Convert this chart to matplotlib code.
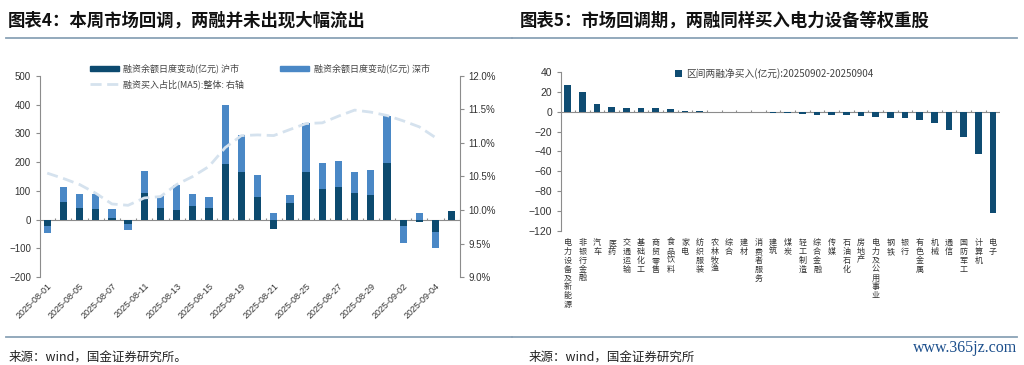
import numpy as np
import matplotlib.pyplot as plt
from matplotlib.lines import Line2D
from matplotlib.patches import Patch

plt.rcParams['font.family'] = ['Noto Sans CJK SC', 'DejaVu Sans']

# left chart: daily margin balance change (100m yuan) and MA5 buy ratio
dates = ['2025-08-01', '2025-08-04', '2025-08-05', '2025-08-06', '2025-08-07',
         '2025-08-08', '2025-08-11', '2025-08-12', '2025-08-13', '2025-08-14',
         '2025-08-15', '2025-08-18', '2025-08-19', '2025-08-20', '2025-08-21',
         '2025-08-22', '2025-08-25', '2025-08-26', '2025-08-27', '2025-08-28',
         '2025-08-29', '2025-09-01', '2025-09-02', '2025-09-03', '2025-09-04',
         '2025-09-05']
sh_change = [-23, 62, 42, 36, 5, -15, 91, 39, 35, 47, 39, 194, 166, 79, -32,
             59, 167, 106, 115, 92, 85, 198, -23, -8, -44, 29]
sz_change = [-22, 53, 47, 53, 31, -20, 78, 43, 85, 42, 39, 204, 128, 77, 23,
             28, 168, 90, 90, 73, 89, 161, -60, 24, -54, 0]
buy_ratio_ma5 = [10.55, 10.47, 10.38, 10.25, 10.09, 10.07, 10.18, 10.20, 10.38,
                 10.50, 10.65, 10.93, 11.11, 11.12, 11.11, 11.20, 11.29, 11.30,
                 11.40, 11.49, 11.46, 11.41, 11.33, 11.24, 11.08, np.nan]

# right chart: net margin buying by industry, 20250902-20250904
industries = ['电力设备及新能源', '非银行金融', '汽车', '医药', '交通运输', '基础化工',
              '商贸零售', '食品饮料', '家电', '纺织服装', '农林牧渔', '综合', '建材',
              '消费者服务', '建筑', '煤炭', '轻工制造', '综合金融', '传媒', '石油石化',
              '房地产', '电力及公用事业', '钢铁', '银行', '有色金属', '机械', '通信',
              '国防军工', '计算机', '电子']
net_buy = [27.3, 19.6, 7.4, 4.4, 4.0, 3.7, 3.4, 3.0, 1.0, 0.6, -0.3, -0.4, -0.5,
           -0.6, -1.0, -1.3, -2.0, -3.3, -3.7, -3.7, -4.4, -5.7, -6.4, -6.7, -8.4,
           -11.8, -18.5, -25.9, -42.8, -101.6]

navy = '#0c4a6f'
blue = '#4a88c6'
line_c = '#d5e2ee'
grey = '#8c8c8c'
txt = '#333333'

fig = plt.figure(figsize=(10.24, 3.65), dpi=100)

# titles, separator lines, sources
fig.text(0.008, 0.945, '图表4：本周市场回调，两融并未出现大幅流出', fontsize=12.5,
         fontweight='bold', va='center', color='#111111')
fig.text(0.508, 0.945, '图表5：市场回调期，两融同样买入电力设备等权重股', fontsize=12.5,
         fontweight='bold', va='center', color='#111111')
for x0, x1 in [(0.006, 0.5), (0.5, 0.993)]:
    for y in (0.896, 0.077):
        fig.add_artist(Line2D([x0, x1], [y, y], color='#8aa2b6', lw=1.3))
fig.text(0.008, 0.022, '来源：wind，国金证券研究所。', fontsize=9, va='center', color='#222222')
fig.text(0.516, 0.022, '来源：wind，国金证券研究所', fontsize=9, va='center', color='#222222')
fig.text(0.993, 0.047, 'www.365jz.com', fontsize=11.5, ha='right', va='center',
         color='#1c4f8c', family=['Liberation Serif'])

# ---- left chart
ax = fig.add_axes([0.039, 0.241, 0.41, 0.551])
x = np.arange(len(dates))
sh = np.array(sh_change, dtype=float)
sz = np.array(sz_change, dtype=float)
sz_bottom = np.where(np.sign(sh) == np.sign(sz), sh, 0)
ax.bar(x, sh, width=0.45, color=navy, zorder=2)
ax.bar(x, sz, width=0.45, bottom=sz_bottom, color=blue, zorder=2)
ax.axhline(0, color=grey, lw=0.8, zorder=1)
ax.vlines(np.arange(len(dates) + 1) - 0.5, 0, 6, color=grey, lw=0.8, zorder=1)
ax.set_xlim(-0.45, len(dates) - 0.5)
ax.set_ylim(-200, 500)
ax.set_yticks(range(-200, 501, 100))
ax.set_xticks(x[::2])
ax.set_xticklabels(dates[::2], rotation=45, ha='right', rotation_mode='anchor',
                   fontsize=6.5, color=txt, family=['Liberation Sans'])
ax.tick_params(axis='x', length=0, pad=3)
ax.tick_params(axis='y', labelsize=7, colors=txt, length=3, color=grey)
for lab in ax.get_yticklabels():
    lab.set_family(['Liberation Sans'])
for s in ['top', 'bottom', 'right']:
    ax.spines[s].set_visible(False)
ax.spines['left'].set_color(grey)

ax2 = ax.twinx()
ax2.plot(x, buy_ratio_ma5, color=line_c, lw=2, dashes=(4, 2), zorder=3)
ax2.set_ylim(9.0, 12.0)
ax2.set_yticks(np.arange(9.0, 12.01, 0.5))
ax2.set_yticklabels(['%.1f%%' % v for v in np.arange(9.0, 12.01, 0.5)],
                    family=['Liberation Sans'])
ax2.tick_params(axis='y', labelsize=7, colors=txt, length=3, color=grey)
for s in ['top', 'bottom', 'left']:
    ax2.spines[s].set_visible(False)
ax2.spines['right'].set_color(grey)

handles = [Patch(color=navy), Line2D([], [], color=line_c, lw=2, dashes=(4, 2)),
           Patch(color=blue)]
labels = ['融资余额日度变动(亿元) 沪市', '融资买入占比(MA5):整体: 右轴',
          '融资余额日度变动(亿元) 深市']
ax.legend(handles, labels, ncol=2, loc='upper left', bbox_to_anchor=(0.1, 1.1),
          frameon=False, fontsize=6.5, handlelength=3.2, handleheight=0.5,
          columnspacing=4.0, labelspacing=0.6, handletextpad=0.5,
          labelcolor='#444444')

# ---- right chart
bx = fig.add_axes([0.548, 0.367, 0.429, 0.436])
xi = np.arange(len(industries))
bx.bar(xi, net_buy, width=0.45, color='#0f4c72', zorder=2,
       label='区间两融净买入(亿元):20250902-20250904')
bx.axhline(0, color=grey, lw=0.8, zorder=1)
bx.vlines(np.arange(len(industries) + 1) - 0.5, 0, 1.8, color=grey, lw=0.8, zorder=1)
bx.set_xlim(-0.45, len(industries) - 0.5)
bx.set_ylim(-120, 40)
bx.set_yticks(range(-120, 41, 20))
bx.set_xticks(xi)
bx.set_xticklabels(['\n'.join(c) for c in industries], fontsize=5.8, linespacing=0.98,
                   color=txt, va='top')
bx.tick_params(axis='x', length=0, pad=5)
bx.tick_params(axis='y', labelsize=7.5, colors=txt, length=3, color=grey)
for lab in bx.get_yticklabels():
    lab.set_family(['Liberation Sans'])
for s in ['top', 'bottom', 'right']:
    bx.spines[s].set_visible(False)
bx.spines['left'].set_color(grey)
bx.legend(loc='upper left', bbox_to_anchor=(0.24, 1.08), frameon=False, fontsize=7,
          handlelength=0.7, handleheight=0.7, handletextpad=0.4, labelcolor='#444444')

fig.savefig('out.png', dpi=100)
